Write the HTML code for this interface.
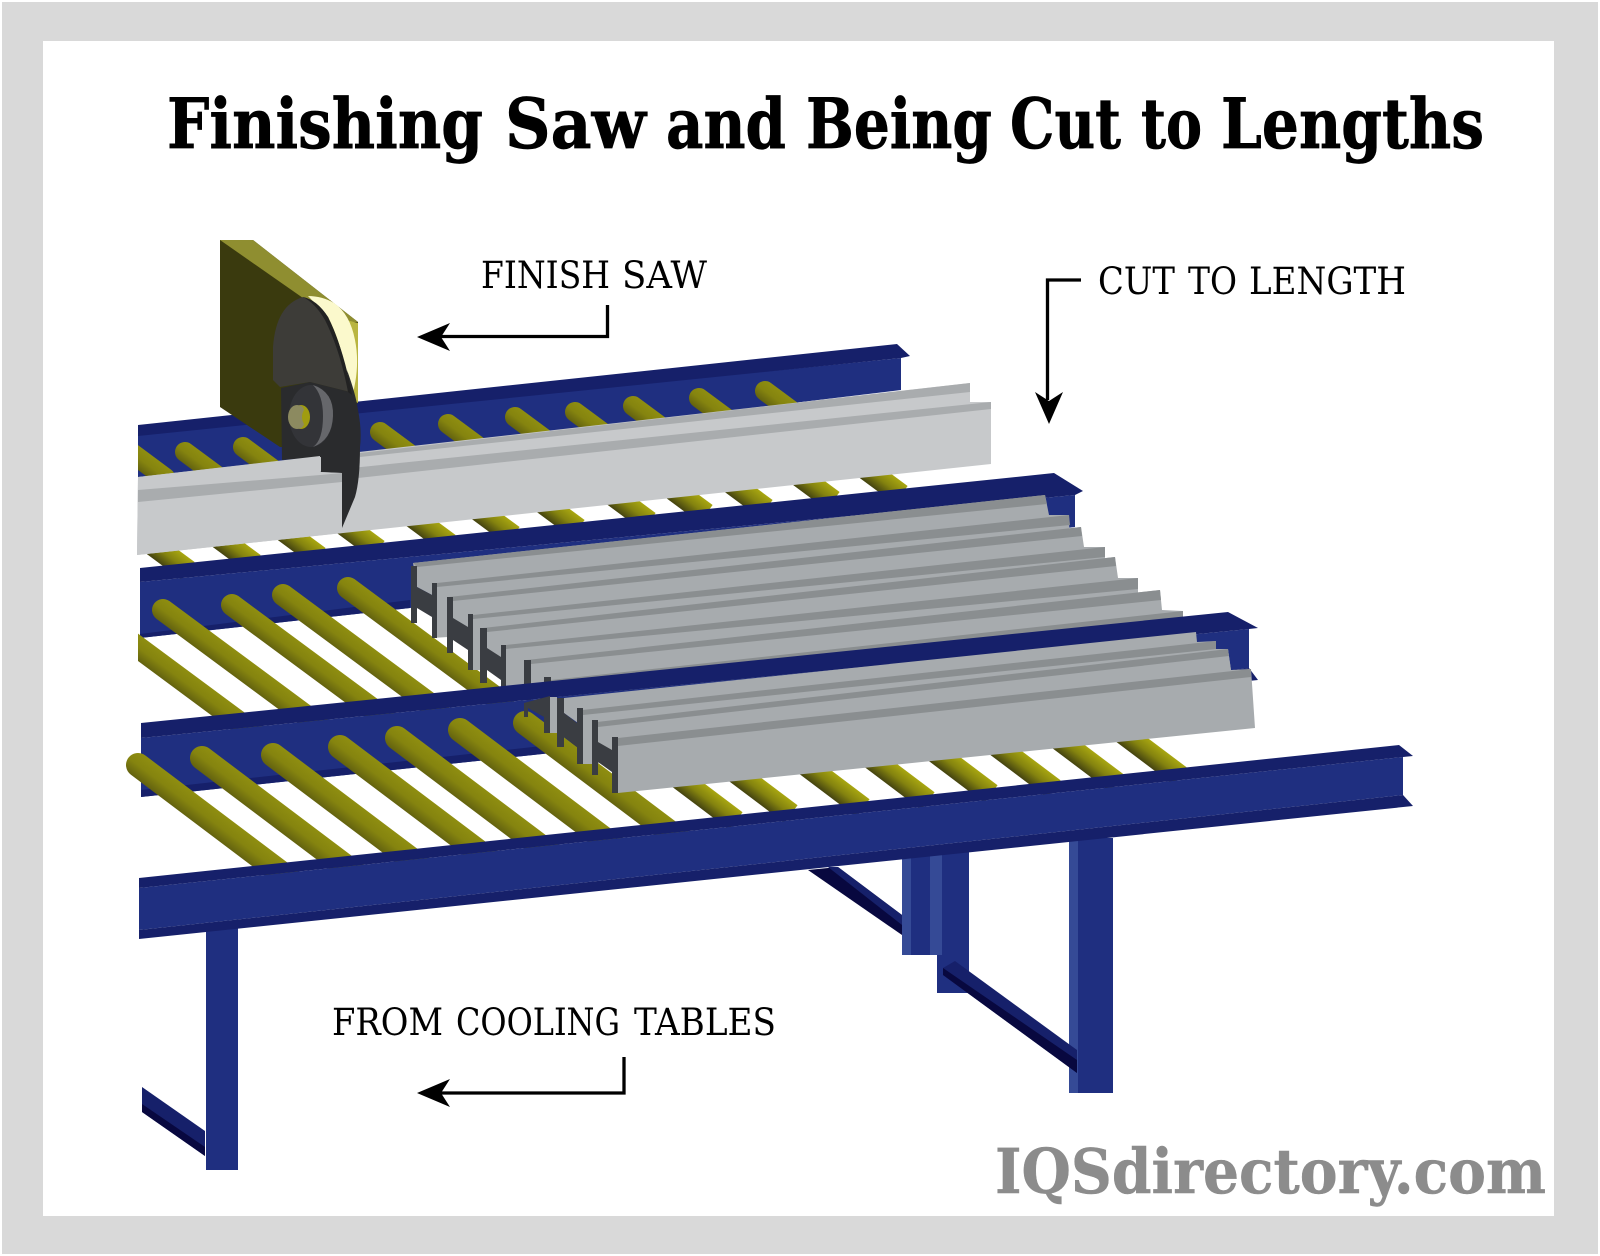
<!DOCTYPE html>
<html><head><meta charset="utf-8"><style>html,body{margin:0;padding:0;background:#fff}svg{display:block}</style></head>
<body>
<svg xmlns="http://www.w3.org/2000/svg" width="1600" height="1256" viewBox="0 0 1600 1256">
<defs>
<linearGradient id="rg" x1="0" y1="0" x2="0" y2="1"><stop offset="0" stop-color="#8f8e10"/><stop offset=".5" stop-color="#85840f"/><stop offset="1" stop-color="#63620f"/></linearGradient>
<linearGradient id="sg" x1="0" y1="0" x2="0" y2="1"><stop offset="0" stop-color="#a8a610"/><stop offset=".5" stop-color="#84830f"/><stop offset="1" stop-color="#444310"/></linearGradient>
<clipPath id="cl"><rect x="138" y="400" width="400" height="400"/></clipPath>
</defs>
<rect width="1600" height="1256" fill="#fff"/>
<rect x="2" y="2" width="1596" height="1252" fill="#d9d9d9"/>
<rect x="43" y="41" width="1511" height="1175" fill="#fff"/>

<!-- rail 1 -->
<polygon points="138,434 901,358 901,390 138,482" fill="#1f2f80"/>
<polygon points="138,425 897,344 910,356 901,358 138,436" fill="#16206a"/>
<!-- rollers row 1 tips -->
<g fill="url(#rg)">
<g clip-path="url(#cl)"><rect transform="translate(125 448) rotate(36.5)" x="-10" y="-10" width="70" height="20" rx="10"/></g>
<rect transform="translate(185 452) rotate(36.5)" x="-10" y="-10" width="70" height="20" rx="10"/>
<rect transform="translate(243 447) rotate(36.5)" x="-10" y="-10" width="70" height="20" rx="10"/>
<rect transform="translate(380 432) rotate(36.5)" x="-10" y="-10" width="70" height="20" rx="10"/>
<rect transform="translate(448 424) rotate(36.5)" x="-10" y="-10" width="70" height="20" rx="10"/>
<rect transform="translate(515 417) rotate(36.5)" x="-10" y="-10" width="70" height="20" rx="10"/>
<rect transform="translate(575 412) rotate(36.5)" x="-10" y="-10" width="70" height="20" rx="10"/>
<rect transform="translate(633 406) rotate(36.5)" x="-10" y="-10" width="70" height="20" rx="10"/>
<rect transform="translate(699 398) rotate(36.5)" x="-10" y="-10" width="70" height="20" rx="10"/>
<rect transform="translate(765 391) rotate(36.5)" x="-10" y="-10" width="70" height="20" rx="10"/>
</g>
<!-- rollers row 1 strips -->
<g fill="url(#sg)">
<rect transform="translate(172 559) rotate(36.5)" x="-30" y="-11" width="50" height="22"/>
<rect transform="translate(238 552) rotate(36.5)" x="-30" y="-11" width="50" height="22"/>
<rect transform="translate(303 545) rotate(36.5)" x="-30" y="-11" width="50" height="22"/>
<rect transform="translate(362 538) rotate(36.5)" x="-30" y="-11" width="50" height="22"/>
<rect transform="translate(433 532) rotate(36.5)" x="-30" y="-11" width="50" height="22"/>
<rect transform="translate(497 524) rotate(36.5)" x="-30" y="-11" width="50" height="22"/>
<rect transform="translate(562 517) rotate(36.5)" x="-30" y="-11" width="50" height="22"/>
<rect transform="translate(633 510) rotate(36.5)" x="-30" y="-11" width="50" height="22"/>
<rect transform="translate(690 502) rotate(36.5)" x="-30" y="-11" width="50" height="22"/>
<rect transform="translate(750 497) rotate(36.5)" x="-30" y="-11" width="50" height="22"/>
<rect transform="translate(817 489) rotate(36.5)" x="-30" y="-11" width="50" height="22"/>
<rect transform="translate(885 483) rotate(36.5)" x="-30" y="-11" width="50" height="22"/>
</g>
<!-- beam 1 -->
<polygon points="138,477 970,383 970,402 991,402 991,464 137,555" fill="#c7c9cb"/>
<polygon points="360,453 970,383 970,392 360,457" fill="#a9acae"/>
<polygon points="138,490 991,402 991,409 138,502" fill="#a9acae"/>
<!-- saw -->
<polygon points="220,240 253,240 358,322 358,403 300,447 280,447 220,407" fill="#3a3a0e"/>
<polygon points="220,240 253,240 358,322 346,322 303,298" fill="#8f8e30"/>
<polygon points="346,320 358,323 358,403 352,400" fill="#b9b540"/>
<path d="M308,296 Q322,296 334,303 Q350,314 355,340 Q360,365 353,393 L347,375 Q340,340 328,317 Z" fill="#fbf9cc"/>
<path d="M303,297 Q276,305 273,347 L273,380 L280,387 L310,382 L350,392 Q344,355 328,317 Q317,300 303,297 Z" fill="#3d3c38"/>
<path d="M281,388 L310,382 L350,392 L347,370 Q356,395 358,410 Q362,430 360,447 Q360,480 355,497 L342,528 L342,473 L321,472 L321,457 L282,460 Z" fill="#2a2b2d"/>
<path d="M303,297 Q317,300 328,317 Q344,350 352,395 L348,392 Q340,350 325,320 Q315,303 303,297 Z" fill="#222"/>
<ellipse cx="311" cy="416" rx="22" ry="31" fill="#333438"/>
<path d="M313,385 Q334,392 333,416 Q332,440 313,447 Q323,440 323,416 Q323,395 313,385 Z" fill="#66676b"/>
<ellipse cx="301" cy="417" rx="9" ry="12" fill="#a09c10"/>
<path d="M297,405 A9,12 0 0 0 297,429 Q303,429 304,424 Q300,417 304,410 Q303,405 297,405 Z" fill="#8c8a60"/>
<!-- beam 1 left piece -->
<polygon points="138,477 320,456 320,472 342,473 342,533 137,555" fill="#c7c9cb"/>
<polygon points="138,490 320,475 342,473 342,482 138,502" fill="#a9acae"/>

<!-- rail 2 -->
<polygon points="140,582 1075,495 1075,527 410,608 140,638" fill="#1f2f80"/>
<polygon points="140,634 410,600 410,608 140,638" fill="#16206a"/>
<polygon points="140,568 1054,473 1083,491 1075,495 140,582" fill="#16206a"/>
<!-- rollers row 2 -->
<g fill="url(#rg)">
<g clip-path="url(#cl)"><rect transform="translate(120 634) rotate(36.5)" x="-10" y="-11" width="190" height="22"/></g>
<rect transform="translate(163 610) rotate(36.5)" x="-11" y="-11" width="215" height="22" rx="11"/>
<rect transform="translate(232 605) rotate(36.5)" x="-11" y="-11" width="215" height="22" rx="11"/>
<rect transform="translate(283 595) rotate(36.5)" x="-11" y="-11" width="215" height="22" rx="11"/>
<rect transform="translate(348 588) rotate(36.5)" x="-11" y="-11" width="215" height="22" rx="11"/>
</g>
<!-- beams row 2 -->
<g fill="#a7abae">
<polygon points="413,563 1045,495 1049,515 1069,515 1070,560 448,637 432,638 432,595 417,587"/>
<polygon points="449,597 1081,527 1084,547 1105,547 1105,590 480,670 468,670 468,627 453,618"/>
<polygon points="483,628 1115,557 1118,578 1138,578 1138,620 520,690 501,690 501,657 487,648"/>
<polygon points="527,660 1160,590 1162,610 1183,611 1183,650 551,700 544,690 531,680"/>
</g>
<g fill="#8a8e90">
<polygon points="413,563 1045,495 1047,504 417,567"/>
<polygon points="437,583 1069,515 1070,525 437,587"/>
<polygon points="449,597 1081,527 1082,536 453,601"/>
<polygon points="473,615 1105,547 1105,557 473,619"/>
<polygon points="483,628 1115,557 1116,566 487,632"/>
<polygon points="506,645 1138,578 1138,589 506,649"/>
<polygon points="527,660 1160,590 1161,600 531,664"/>
<polygon points="551,680 1183,611 1183,620 551,684"/>
</g>
<g fill="#3a3d42">
<polygon points="411,566 417,566 417,587 432,595 432,583 437,583 437,638 432,638 432,617 417,608 417,623 411,623"/>
<polygon points="447,597 453,597 453,618 468,627 468,614 473,614 473,670 468,670 468,650 453,640 453,653 447,653"/>
<polygon points="480,628 487,628 487,648 501,657 501,645 506,645 506,690 501,690 501,680 487,670 487,683 480,683"/>
<polygon points="524,660 531,660 531,700 524,700"/>
<polygon points="544,677 551,677 551,700 544,700"/>
</g>

<!-- rail 3 -->
<polygon points="141,738 1249,629 1249,668 533,755 141,797" fill="#1f2f80"/>
<polygon points="141,790 533,747 1249,668 1258,680 533,755 141,797" fill="#16206a"/>
<polygon points="141,723 1228,612 1258,628 1249,629 141,738" fill="#16206a"/>
<!-- rollers row 3 -->
<g fill="url(#rg)">
<rect transform="translate(138 765) rotate(37)" x="-12" y="-12" width="230" height="24" rx="12"/>
<rect transform="translate(202 758) rotate(37)" x="-12" y="-12" width="230" height="24" rx="12"/>
<rect transform="translate(273 755) rotate(37)" x="-12" y="-12" width="230" height="24" rx="12"/>
<rect transform="translate(340 747) rotate(37)" x="-12" y="-12" width="230" height="24" rx="12"/>
<rect transform="translate(397 738) rotate(37)" x="-12" y="-12" width="230" height="24" rx="12"/>
<rect transform="translate(460 730) rotate(37)" x="-12" y="-12" width="230" height="24" rx="12"/>
<rect transform="translate(525 723) rotate(37)" x="-12" y="-12" width="230" height="24" rx="12"/>
</g>
<g fill="url(#sg)">
<rect transform="translate(708 800) rotate(37)" x="-45" y="-11" width="80" height="22"/>
<rect transform="translate(763 793) rotate(37)" x="-45" y="-11" width="80" height="22"/>
<rect transform="translate(835 787) rotate(37)" x="-45" y="-11" width="80" height="22"/>
<rect transform="translate(900 780) rotate(37)" x="-45" y="-11" width="80" height="22"/>
<rect transform="translate(963 773) rotate(37)" x="-45" y="-11" width="80" height="22"/>
<rect transform="translate(1026 768) rotate(37)" x="-45" y="-11" width="80" height="22"/>
<rect transform="translate(1089 762) rotate(37)" x="-45" y="-11" width="80" height="22"/>
<rect transform="translate(1152 755) rotate(37)" x="-45" y="-11" width="80" height="22"/>
</g>
<!-- D beam remainder below rail 3 -->
<polygon points="550,697 557,697 557,733 550,733" fill="#a7abae"/>
<polygon points="524,703 550,696 550,733 544,733 544,717 528,708 528,717 524,717" fill="#3a3d42"/>
<!-- beams row 3 -->
<g fill="#a7abae">
<polygon points="564,698 1196,632 1197,642 1216,641 1216,649 1228,649 1231,670 1100,705 592,764 578,764 578,723 564,713"/>
<polygon points="598,722 1228,650 1231,670 1251,669 1255,728 618,793 612,793 612,750 598,742"/>
</g>
<g fill="#8a8e90">
<polygon points="582,710 1216,641 1216,649 583,715"/>
<polygon points="597,722 1228,649 1229,656 598,727"/>
<polygon points="618,738 1251,669 1251,677 618,746"/>
</g>
<g fill="#3a3d42">
<polygon points="557,698 564,698 564,713 577,723 577,708 583,708 583,764 577,764 577,747 564,737 564,747 557,747"/>
<polygon points="592,720 598,720 598,742 612,750 612,737 618,737 618,793 612,793 612,772 598,762 598,775 592,775"/>
</g>

<!-- braces -->
<polygon points="838,867 902,915 902,935 808,870" fill="#08083f"/>
<polygon points="828,867 838,867 902,915 902,925" fill="#16206a"/>
<polygon points="142,1087 205,1131 205,1156 142,1112" fill="#16206a"/>
<polygon points="142,1104 205,1147 205,1156 142,1112" fill="#08083f"/>
<!-- legs -->
<rect x="937" y="850" width="32" height="143" fill="#1f2f80"/>
<rect x="902" y="850" width="9" height="105" fill="#354a96"/>
<rect x="911" y="850" width="19" height="105" fill="#1f2f80"/>
<rect x="930" y="850" width="12" height="105" fill="#354a96"/>
<rect x="1069" y="838" width="9" height="255" fill="#354a96"/>
<rect x="1078" y="838" width="35" height="255" fill="#1f2f80"/>
<rect x="206" y="925" width="32" height="245" fill="#1f2f80"/>
<polygon points="943,968 955,961 1077,1050 1077,1073 943,975" fill="#16206a"/>
<polygon points="943,968 1077,1060 1077,1073 943,975" fill="#08083f"/>
<!-- rail 4 -->
<polygon points="139,888 1403,757 1403,795 139,930" fill="#1f2f80"/>
<polygon points="139,878 1399,745 1413,756 1403,757 139,888" fill="#16206a"/>
<polygon points="139,930 1403,795 1413,806 139,939" fill="#16206a"/>

<!-- arrows -->
<g fill="none" stroke="#000" stroke-width="3.300">
<path d="M607.500,305 V336.500 H440"/>
<path d="M1081,280 H1047.500 V400"/>
<path d="M624,1057 V1093 H440"/>
</g>
<polygon points="417,337 450,323 441,337 450,351" fill="#000"/>
<polygon points="1049,424 1035,392 1049,401 1063,392" fill="#000"/>
<polygon points="417,1093 450,1079 441,1093 450,1107" fill="#000"/>

<!-- text -->
<g font-family="'DejaVu Serif','Liberation Serif',serif">
<g font-size="69" font-weight="700" fill="#000" stroke="#000" stroke-width=".7">
<text x="167" y="148" textLength="316" lengthAdjust="spacingAndGlyphs">Finishing</text>
<text x="505" y="148" textLength="141" lengthAdjust="spacingAndGlyphs">Saw</text>
<text x="666" y="148" textLength="120" lengthAdjust="spacingAndGlyphs">and</text>
<text x="806" y="148" textLength="186" lengthAdjust="spacingAndGlyphs">Being</text>
<text x="1010" y="148" textLength="111" lengthAdjust="spacingAndGlyphs">Cut</text>
<text x="1141" y="148" textLength="61" lengthAdjust="spacingAndGlyphs">to</text>
<text x="1221" y="148" textLength="263" lengthAdjust="spacingAndGlyphs">Lengths</text>
</g>
<text x="995" y="1193" font-size="62" font-weight="700" fill="#8c8c8c" stroke="#8c8c8c" stroke-width=".5" textLength="551" lengthAdjust="spacingAndGlyphs">IQSdirectory.com</text>
<g font-size="37" fill="#000">
<text x="481" y="288" textLength="129" lengthAdjust="spacingAndGlyphs">FINISH</text>
<text x="622" y="288" textLength="85" lengthAdjust="spacingAndGlyphs">SAW</text>
<text x="1098" y="294" textLength="77" lengthAdjust="spacingAndGlyphs">CUT</text>
<text x="1188" y="294" textLength="49" lengthAdjust="spacingAndGlyphs">TO</text>
<text x="1249" y="294" textLength="157" lengthAdjust="spacingAndGlyphs">LENGTH</text>
<text x="332" y="1035" textLength="111" lengthAdjust="spacingAndGlyphs">FROM</text>
<text x="456" y="1035" textLength="164" lengthAdjust="spacingAndGlyphs">COOLING</text>
<text x="634" y="1035" textLength="142" lengthAdjust="spacingAndGlyphs">TABLES</text>
</g>
</g>
</svg>
</body></html>
